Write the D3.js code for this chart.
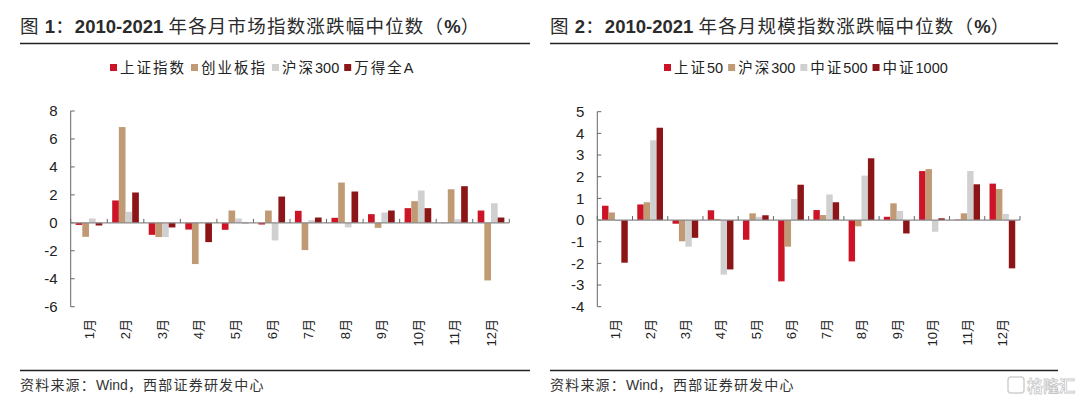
<!DOCTYPE html>
<html lang="zh">
<head>
  <meta charset="utf-8">
  <title>2010-2021 年各月指数涨跌幅中位数</title>
  <style>
    html, body { margin:0; padding:0; background:#fff; overflow:hidden; }
    svg { display:block; font-family:"Liberation Sans", Arial, "Noto Sans CJK SC", sans-serif; }
    .cjk { font-family:"Liberation Sans", "Noto Sans CJK SC", sans-serif; }
  </style>
</head>
<body>
  <svg id="chart" width="1080" height="401"></svg>
  <script src="https://cdn.jsdelivr.net/npm/d3@7/dist/d3.min.js"></script>
  <script>
    // --- dati ---
    const months = ["1月","2月","3月","4月","5月","6月","7月","8月","9月","10月","11月","12月"];

    // grafico 1: indici di mercato
    const names1 = ["上证指数", "创业板指", "沪深300", "万得全A"];
    const sh1    = [-0.15, 1.60, -0.86, -0.48, -0.50, -0.12, 0.86, 0.36, 0.62, 1.05, -0.02, 0.88];
    const cyb1   = [-1.00, 6.85, -1.02, -2.95, 0.88, 0.88, -1.95, 2.88, -0.36, 1.55, 2.40, -4.12];
    const hs1    = [0.31, 0.79, -1.02, 0.00, 0.31, -1.26, 0.19, -0.33, 0.74, 2.31, 0.26, 1.40];
    const wd1    = [-0.19, 2.17, -0.33, -1.38, -0.03, 1.88, 0.38, 2.24, 0.88, 1.05, 2.62, 0.38];
    const ticks1 = [-6, -4, -2, 0, 2, 4, 6, 8];

    // grafico 2: indici per dimensione
    const names2 = ["上证50", "沪深300", "中证500", "中证1000"];
    const sz50   = [0.66, 0.72, -0.17, 0.45, -0.91, -2.83, 0.46, -1.91, 0.15, 2.26, 0.02, 1.68];
    const hs2    = [0.35, 0.82, -0.98, 0.05, 0.31, -1.23, 0.23, -0.29, 0.77, 2.35, 0.31, 1.43];
    const zz500  = [-0.05, 3.68, -1.23, -2.52, 0.15, 0.97, 1.18, 2.05, 0.42, -0.54, 2.26, 0.28];
    const zz1000 = [-1.97, 4.26, -0.82, -2.28, 0.22, 1.63, 0.82, 2.85, -0.62, 0.08, 1.65, -2.23];
    const ticks2 = [-4, -3, -2, -1, 0, 1, 2, 3, 4, 5];

    const colors = ["#cc1426", "#bf9a74", "#d0d0d0", "#8c1518"];

    const svg = d3.select("#chart");

    // spezza il testo in pezzi CJK / latini, spaziatura solo sui CJK
    function runs(sel, str, sp, bold) {
      const parts = str.match(/[\u3000-\u9fff\uff00-\uffef]+|[^\u3000-\u9fff\uff00-\uffef]+/g);
      parts.forEach(p => {
        const cjk = /[\u3000-\u9fff\uff00-\uffef]/.test(p);
        const ts = sel.append("tspan").text(p);
        if (cjk) ts.attr("letter-spacing", sp);
        else if (bold) ts.attr("font-weight", "bold");
      });
      return sel;
    }

    function drawPanel(o) {
      const g = svg.append("g");

      // titolo + riga
      const t = g.append("text").attr("class", "cjk")
        .attr("x", o.left).attr("y", 33)
        .attr("font-size", 18.5).attr("fill", "#2b2b2b")
        .attr("xml:space", "preserve");
      runs(t, o.title, 1.2, true);
      g.append("line").attr("x1", o.left).attr("x2", o.right).attr("y1", 43.5).attr("y2", 43.5)
        .attr("stroke", "#222").attr("stroke-width", 1.3);

      // legenda
      let lx = o.legendX;
      o.names.forEach((n, i) => {
        g.append("rect").attr("x", lx).attr("y", 64).attr("width", 7).attr("height", 7).attr("fill", colors[i]);
        const tx = g.append("text").attr("class", "cjk")
          .attr("x", lx + 10).attr("y", 73)
          .attr("font-size", 14.5).attr("fill", "#222");
        runs(tx, n, 2, false);
        lx += 10 + tx.node().getComputedTextLength() + 5;
      });

      // scale
      const x = d3.scaleBand().domain(months).range([o.x0, o.x1]).paddingInner(0.27).paddingOuter(0.135);
      const xs = d3.scaleBand().domain(d3.range(4)).range([0, x.bandwidth()]);
      const y = d3.scaleLinear().domain(o.domain).range([306.7, o.yTop]);
      const step = x.step();

      // barre
      const rows = months.map((m, i) => ({ m, v: o.series.map(s => s[i]) }));
      const grp = g.selectAll(".grp").data(rows).join("g")
        .attr("transform", d => `translate(${x(d.m)},0)`);
      grp.selectAll("rect").data(d => d.v).join("rect")
        .attr("x", (v, i) => xs(i))
        .attr("width", xs.bandwidth())
        .attr("y", v => y(Math.max(0, v)))
        .attr("height", v => Math.abs(y(v) - y(0)))
        .attr("fill", (v, i) => colors[i]);

      // asse y
      g.append("line").attr("x1", o.x0).attr("x2", o.x0)
        .attr("y1", y(o.domain[1])).attr("y2", y(o.domain[0]))
        .attr("stroke", "#666");
      o.ticks.forEach(tv => {
        g.append("line").attr("x1", o.x0).attr("x2", o.x0 + 4).attr("y1", y(tv)).attr("y2", y(tv)).attr("stroke", "#666");
        g.append("text").attr("x", o.x0 - 13).attr("y", y(tv)).attr("dy", "0.36em")
          .attr("text-anchor", "end").attr("font-size", 15).attr("fill", "#222")
          .text(tv);
      });

      // asse x sullo zero
      g.append("line").attr("x1", o.x0).attr("x2", o.x1).attr("y1", y(0)).attr("y2", y(0))
        .attr("stroke", "#8a8a8a").attr("stroke-width", 1.2);
      d3.range(13).forEach(i => {
        const xx = o.x0 + i * step;
        g.append("line").attr("x1", xx).attr("x2", xx).attr("y1", y(0)).attr("y2", y(0) - 4)
          .attr("stroke", "#666");
      });
      months.forEach(m => {
        const cx = x(m) + x.bandwidth() / 2;
        g.append("text").attr("class", "cjk")
          .attr("transform", `translate(${cx + 4.8},319) rotate(-90)`)
          .attr("text-anchor", "end").attr("font-size", 13).attr("fill", "#222")
          .text(m);
      });

      // fonte
      g.append("line").attr("x1", o.left).attr("x2", o.right).attr("y1", 370.5).attr("y2", 370.5)
        .attr("stroke", "#222").attr("stroke-width", 1.3);
      const src = g.append("text").attr("class", "cjk")
        .attr("x", o.left).attr("y", 390)
        .attr("font-size", 14).attr("fill", "#333");
      runs(src, "资料来源：Wind，西部证券研发中心", 1.2, false);
    }

    drawPanel({
      title: "图 1：2010-2021 年各月市场指数涨跌幅中位数（%）",
      left: 20, right: 530, legendX: 110,
      names: names1, series: [sh1, cyb1, hs1, wd1],
      x0: 70.7, x1: 509.3, domain: [-6, 8], yTop: 111, ticks: ticks1
    });
    drawPanel({
      title: "图 2：2010-2021 年各月规模指数涨跌幅中位数（%）",
      left: 550, right: 1058, legendX: 664,
      names: names2, series: [sz50, hs2, zz500, zz1000],
      x0: 597.3, x1: 1020, domain: [-4, 5], yTop: 111.7, ticks: ticks2
    });

    // watermark
    const wm = svg.append("g").attr("opacity", 0.55);
    wm.append("rect").attr("x", 1008).attr("y", 377).attr("width", 16).attr("height", 16).attr("rx", 3)
      .attr("fill", "none").attr("stroke", "#aaa").attr("stroke-width", 1.5);
    wm.append("text").attr("class", "cjk").attr("x", 1027).attr("y", 392)
      .attr("font-size", 16).attr("font-weight", "bold")
      .attr("fill", "#fff").attr("stroke", "#999").attr("stroke-width", 0.8)
      .text("格隆汇");
  </script>
</body>
</html>
